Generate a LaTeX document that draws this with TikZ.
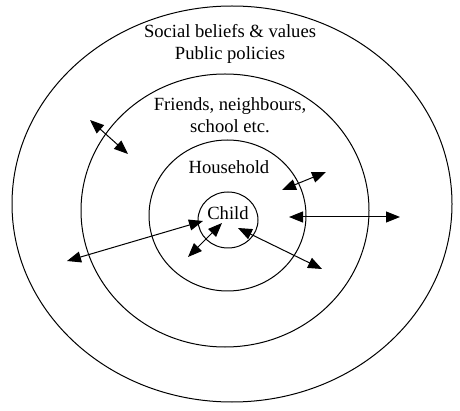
\documentclass[tikz,border=0pt]{standalone}
\usepackage{fontspec}
\setmainfont{Liberation Serif}
\usetikzlibrary{arrows.meta}
\begin{document}
\begin{tikzpicture}[x=1pt,y=-1pt,
  ring/.style={draw=black,line width=1pt},
  lbl/.style={align=center,font=\fontsize{18.6}{22}\selectfont,inner sep=0pt},
  dbl/.style={line width=1pt,{Triangle[length=14pt,width=11pt]}-{Triangle[length=14pt,width=11pt]}}]
\useasboundingbox (0,0) rectangle (460,411);
% rings
\draw[ring] (232,204) ellipse [x radius=220,y radius=198];
\draw[ring] (225,210.5) ellipse [x radius=144,y radius=136.5];
\draw[ring] (227.5,215.5) ellipse [x radius=78.5,y radius=75.5];
\draw[ring] (228,220) ellipse [x radius=30,y radius=28];
% labels
\node[lbl] (soc) at (230,44) {Social beliefs \& values\\Public policies};
\node[lbl] (fri) at (230,115) {Friends, neighbours,\\school etc.};
\node[lbl] (hh) at (229,167) {Household};
\node[lbl] (ch) at (228,213) {Child};
% arrow end points
\coordinate (a1) at (90,120);  \coordinate (b1) at (128,154);
\coordinate (a2) at (282,190); \coordinate (b2) at (326,172);
\coordinate (a3) at (67,261);  \coordinate (b3) at (203,221);
\coordinate (a4) at (188,257); \coordinate (b4) at (222,223);
\coordinate (a5) at (289,217); \coordinate (b5) at (400,217);
\coordinate (a6) at (238,228); \coordinate (b6) at (322,269);
\draw[dbl] (a1) -- (b1);
\draw[dbl] (a2) -- (b2);
\draw[dbl] (a3) -- (b3);
\draw[dbl] (a4) -- (b4);
\draw[dbl] (a5) -- (b5);
\draw[dbl] (a6) -- (b6);
\end{tikzpicture}
\end{document}
